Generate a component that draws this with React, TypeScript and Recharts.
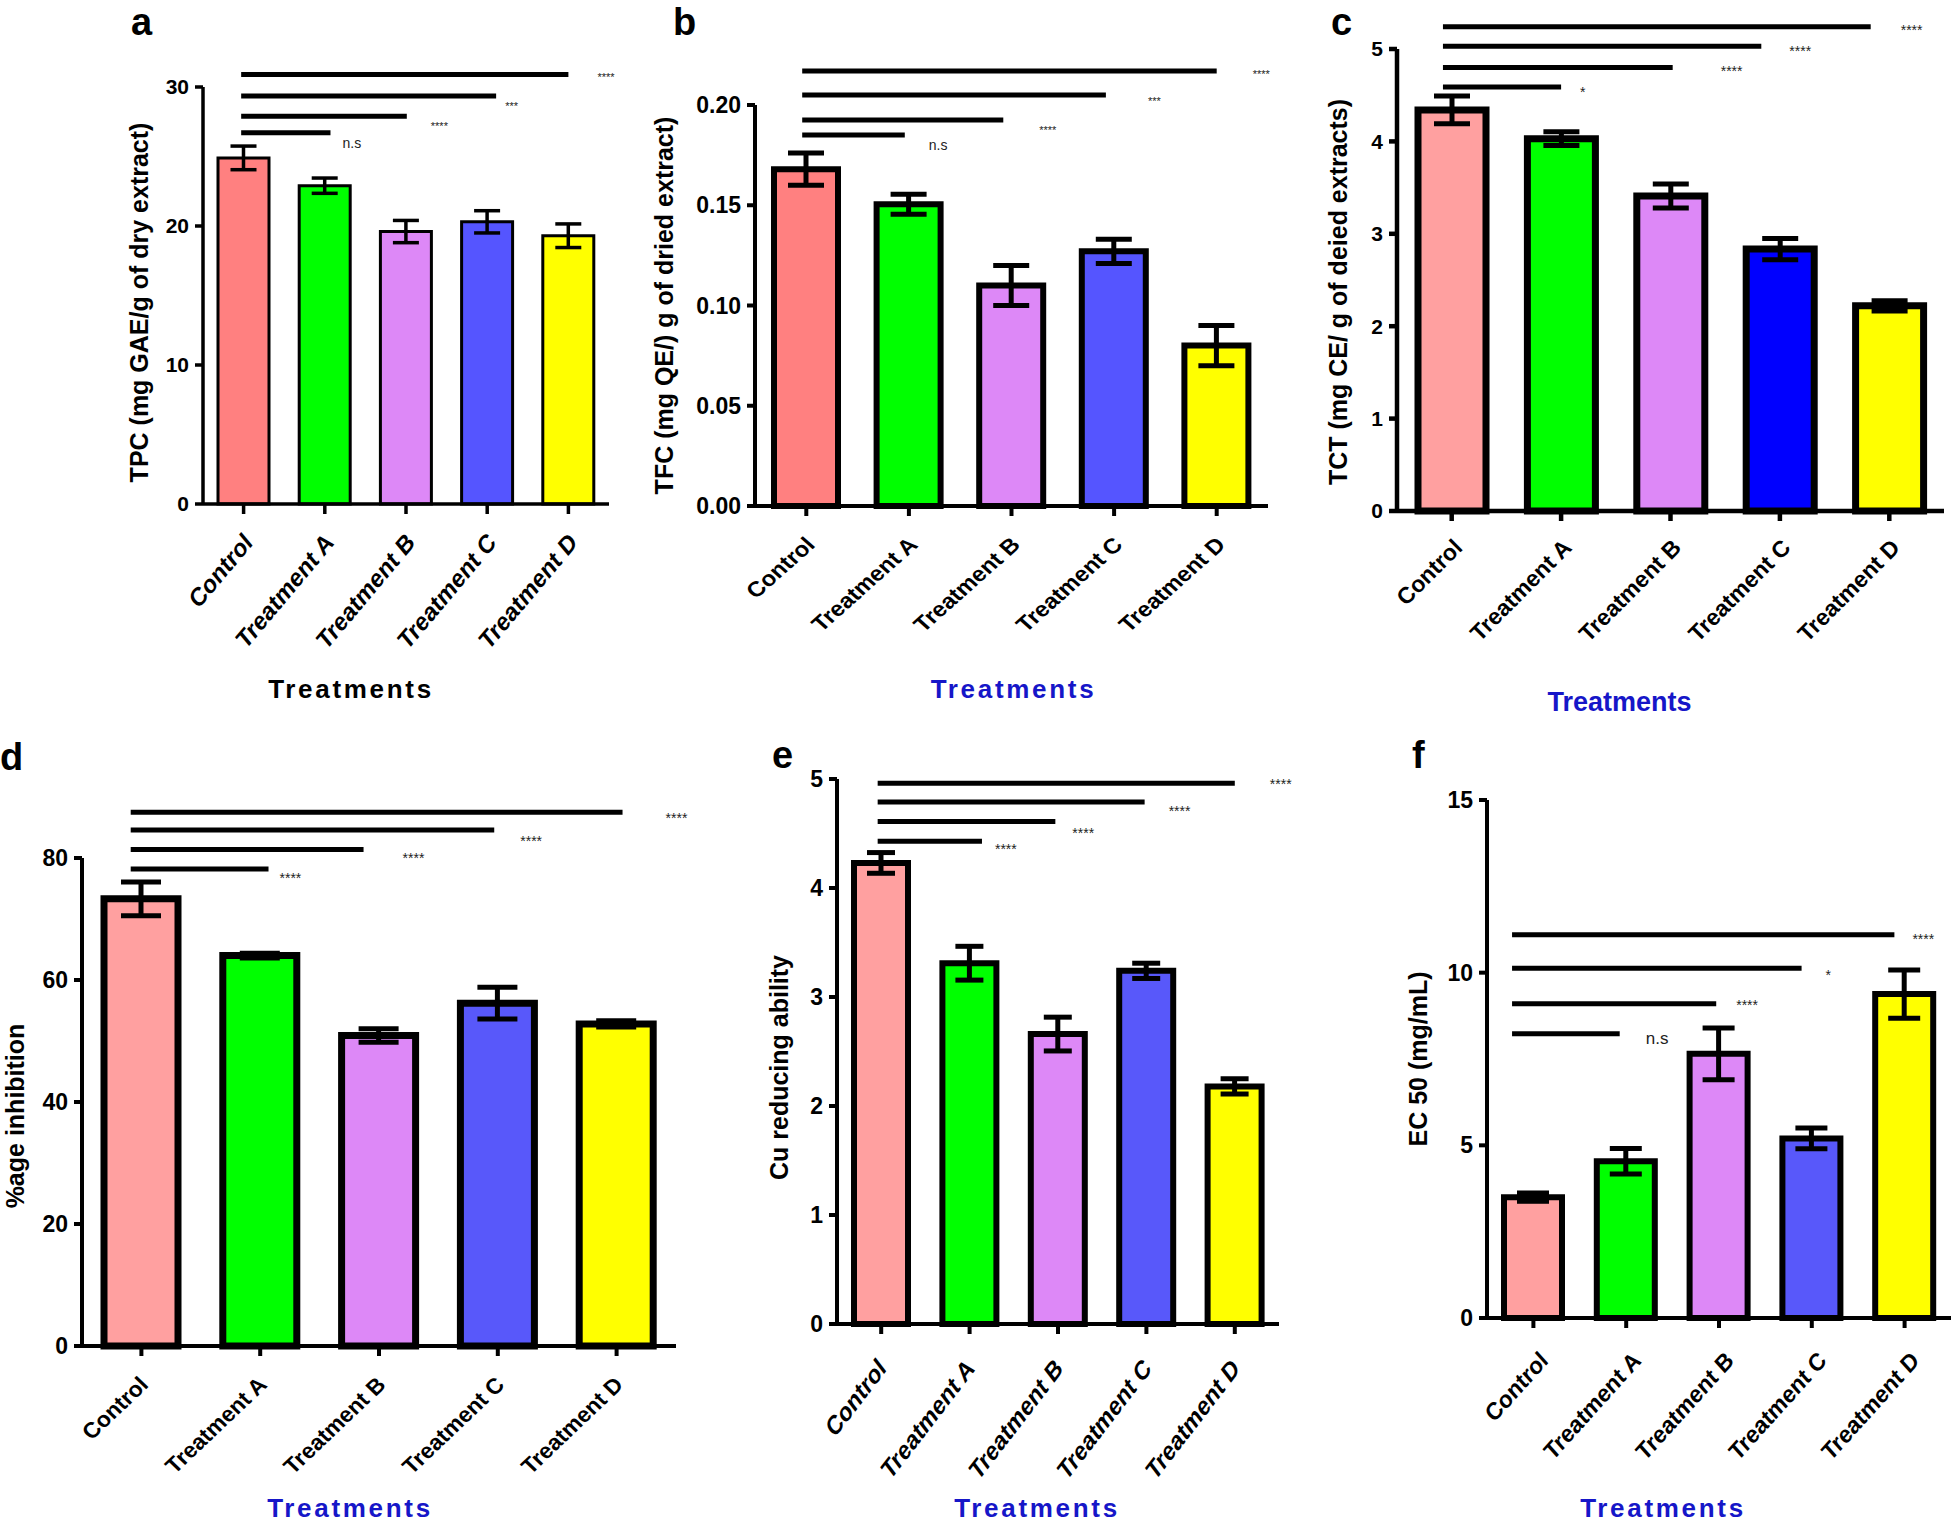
import { Bar, BarChart, Cell, ErrorBar, ReferenceLine, XAxis, YAxis } from "recharts";

const FONT = '"Liberation Sans", Arial, Helvetica, sans-serif';
const BLUE = "#1616c8";

const categories = ["Control", "Treatment A", "Treatment B", "Treatment C", "Treatment D"];
// comparison bars run from Control towards these groups (top to bottom)
const sigTargetIdx = [4, 3, 2, 1];

// a - TPC
const tpcMean = [24.9, 22.9, 19.6, 20.3, 19.3];
const tpcErr = [0.85, 0.55, 0.8, 0.8, 0.85];
const tpcTicks = [0, 10, 20, 30];
const tpcSigLevels = [30.9, 29.35, 27.9, 26.7];
const tpcSigStart = 0.47;
const tpcSigEnds = [4.5, 3.61, 2.51, 1.57];
const tpcSigText = ["****", "***", "****", "n.s"];

// b - TFC
const tfcMean = [0.168, 0.1505, 0.11, 0.127, 0.08];
const tfcErr = [0.008, 0.005, 0.01, 0.006, 0.01];
const tfcTicks = [0, 0.05, 0.1, 0.15, 0.2];
const tfcSigLevels = [0.217, 0.205, 0.1925, 0.185];
const tfcSigStart = 0.46;
const tfcSigEnds = [4.5, 3.42, 2.42, 1.46];
const tfcSigText = ["****", "***", "****", "n.s"];

// c - TCT
const tctMean = [4.34, 4.03, 3.41, 2.835, 2.22];
const tctErr = [0.15, 0.075, 0.13, 0.115, 0.055];
const tctTicks = [0, 1, 2, 3, 4, 5];
const tctSigLevels = [5.24, 5.03, 4.8, 4.59];
const tctSigStart = 0.42;
const tctSigEnds = [4.33, 3.33, 2.52, 1.5];
const tctSigText = ["****", "****", "****", "*"];

// d - % inhibition
const inhibMean = [73.3, 64.0, 50.9, 56.2, 52.8];
const inhibErr = [2.75, 0.4, 1.1, 2.6, 0.5];
const inhibTicks = [0, 20, 40, 60, 80];
const inhibSigLevels = [87.5, 84.6, 81.4, 78.2];
const inhibSigStart = 0.41;
const inhibSigEnds = [4.55, 3.47, 2.37, 1.57];
const inhibSigText = ["****", "****", "****", "****"];

// e - Cu reducing ability
const cuMean = [4.23, 3.31, 2.66, 3.24, 2.18];
const cuErr = [0.095, 0.155, 0.155, 0.07, 0.07];
const cuTicks = [0, 1, 2, 3, 4, 5];
const cuSigLevels = [4.96, 4.79, 4.61, 4.43];
const cuSigStart = 0.46;
const cuSigEnds = [4.5, 3.48, 2.47, 1.64];
const cuSigText = ["****", "****", "****", "****"];

// f - EC50
const ecMean = [3.5, 4.54, 7.65, 5.2, 9.38];
const ecErr = [0.12, 0.37, 0.75, 0.3, 0.7];
const ecTicks = [0, 5, 10, 15];
const ecSigLevels = [11.1, 10.13, 9.1, 8.23];
const ecSigStart = 0.27;
const ecSigEnds = [4.39, 3.39, 2.47, 1.43];
const ecSigText = ["****", "*", "****", "n.s"];

const palSalmon = ["#ff8080", "#00ff00", "#dd88f7", "#5555ff", "#ffff00"];
const palPinkBlue = ["#ffa0a0", "#00ff00", "#dd88f7", "#0000ff", "#ffff00"];
const palPink = ["#ffa0a0", "#00ff00", "#dd88f7", "#5858fa", "#ffff00"];

type PanelProps = {
  letter: string;
  mean: number[];
  err: number[];
  ticks: number[];
  sigLevels: number[];
  sigStart: number;
  sigEnds: number[];
  sigText: string[];
  colors: string[];
  yTitle: string;
  decimals: number;
  left: number;
  top: number;
  width: number;
  height: number;
  yAxisWidth: number;
  marginTop: number;
  marginRight: number;
  xAxisHeight: number;
  barSize: number;
  barStroke: number;
  capHalf: number;
  errW: number;
  axisW: number;
  yTickFont: number;
  xTickFont: number;
  xTickK: number;
  xTickDx: number;
  xTickDy: number;
  yTitleFont: number;
  yTitleDist: number;
  yTitleDy: number;
  xTitleColor: string;
  xTitleFont: number;
  xTitleSpacing: number;
  xTitleDx: number;
  xTitleDy: number;
  sigGap: number[];
  sigDy: number[];
  sigFont: number;
  letterX: number;
  letterY: number;
};

function RotTick(props: any) {
  const { x, y, payload, fontSize, k, dx, dy } = props;
  // y arrives as axis y + tickSize + tickMargin (14)
  return (
    <g transform={`translate(${x + dx},${y - 14 + dy}) scale(1,${k}) rotate(-45)`}>
      <text textAnchor="end" fontSize={fontSize} fontWeight="bold" fill="#000">
        {payload.value}
      </text>
    </g>
  );
}

function Panel(p: PanelProps) {
  const data = categories.map((name, i) => ({ name, mean: p.mean[i], err: p.err[i] }));
  const yMax = p.ticks[p.ticks.length - 1];

  const yTitle = (props: any) => {
    const vb = props.viewBox;
    if (!vb) return null;
    const cx = vb.x + vb.width - p.yTitleDist;
    const cy = vb.y + vb.height / 2 + p.yTitleDy;
    return (
      <text
        x={cx}
        y={cy}
        transform={`rotate(-90, ${cx}, ${cy})`}
        textAnchor="middle"
        dominantBaseline="central"
        fontSize={p.yTitleFont}
        fontWeight="bold"
        fill="#000"
      >
        {p.yTitle}
      </text>
    );
  };

  const xTitle = (props: any) => {
    const vb = props.viewBox;
    if (!vb) return null;
    return (
      <text
        x={vb.x + vb.width / 2 + p.xTitleDx}
        y={vb.y + p.xTitleDy}
        textAnchor="middle"
        fontSize={p.xTitleFont}
        fontWeight="bold"
        letterSpacing={p.xTitleSpacing}
        fill={p.xTitleColor}
      >
        Treatments
      </text>
    );
  };

  // the segment is laid between category centres; the shape trims it to the
  // exact start / end (in category units, centre = i + 0.5)
  const sigShape = (i: number) => (props: any) => {
    const { x1, x2, y1 } = props;
    if (x1 == null || x2 == null || y1 == null) return <g />;
    const band = (x2 - x1) / sigTargetIdx[i];
    const xs = x1 + (p.sigStart - 0.5) * band;
    const xe = x1 + (p.sigEnds[i] - 0.5) * band;
    const txt = p.sigText[i];
    return (
      <g>
        <line x1={xs} y1={y1} x2={xe} y2={y1} stroke="#000" strokeWidth={5} />
        <text
          x={xe + p.sigGap[i]}
          y={y1 + p.sigDy[i]}
          dominantBaseline="central"
          fontSize={txt === "n.s" ? p.sigFont + 3 : p.sigFont}
          fill="#222"
        >
          {txt}
        </text>
      </g>
    );
  };

  return (
    <div style={{ position: "absolute", left: p.left, top: p.top }}>
      <BarChart
        width={p.width}
        height={p.height}
        data={data}
        margin={{ top: p.marginTop, right: p.marginRight, bottom: 0, left: 0 }}
        barSize={p.barSize}
      >
        <XAxis
          dataKey="name"
          height={p.xAxisHeight}
          interval={0}
          axisLine={{ stroke: "#000", strokeWidth: p.axisW }}
          tickLine={{ stroke: "#000", strokeWidth: p.axisW }}
          tickSize={10}
          tickMargin={4}
          tick={(t: any) => (
            <RotTick {...t} fontSize={p.xTickFont} k={p.xTickK} dx={p.xTickDx} dy={p.xTickDy} />
          )}
          label={xTitle}
        />
        <YAxis
          domain={[0, yMax]}
          ticks={p.ticks}
          width={p.yAxisWidth}
          axisLine={{ stroke: "#000", strokeWidth: p.axisW }}
          tickLine={{ stroke: "#000", strokeWidth: p.axisW }}
          tickSize={8}
          tickMargin={6}
          tick={{ fill: "#000", fontSize: p.yTickFont, fontWeight: "bold" }}
          tickFormatter={(v: number) => v.toFixed(p.decimals)}
          label={yTitle}
        />
        <Bar dataKey="mean" stroke="#000" strokeWidth={p.barStroke} isAnimationActive={false}>
          {data.map((d, i) => (
            <Cell key={d.name} fill={p.colors[i]} />
          ))}
          <ErrorBar
            dataKey="err"
            direction="y"
            width={p.capHalf}
            stroke="#000"
            strokeWidth={p.errW}
            isAnimationActive={false}
          />
        </Bar>
        {sigTargetIdx.map((t, i) => (
          <ReferenceLine
            key={i}
            segment={[
              { x: categories[0], y: p.sigLevels[i] },
              { x: categories[t], y: p.sigLevels[i] },
            ]}
            stroke="#000"
            strokeWidth={5}
            ifOverflow="visible"
            shape={sigShape(i)}
          />
        ))}
      </BarChart>
      <div
        style={{
          position: "absolute",
          left: p.letterX,
          top: p.letterY,
          fontSize: 38,
          lineHeight: 1,
          fontWeight: "bold",
          color: "#000",
        }}
      >
        {p.letter}
      </div>
    </div>
  );
}

export default function App() {
  return (
    <div
      style={{
        position: "absolute",
        left: 0,
        top: 0,
        width: 1953,
        height: 1524,
        overflow: "hidden",
        background: "#fff",
        fontFamily: FONT,
      }}
    >
      <Panel
        letter="a"
        mean={tpcMean}
        err={tpcErr}
        ticks={tpcTicks}
        sigLevels={tpcSigLevels}
        sigStart={tpcSigStart}
        sigEnds={tpcSigEnds}
        sigText={tpcSigText}
        colors={palSalmon}
        yTitle="TPC (mg GAE/g of dry extract)"
        decimals={0}
        left={0}
        top={0}
        width={640}
        height={720}
        yAxisWidth={203}
        marginTop={87}
        marginRight={31}
        xAxisHeight={216}
        barSize={51}
        barStroke={3}
        capHalf={13}
        errW={3.5}
        axisW={3.5}
        yTickFont={21}
        xTickFont={22}
        xTickK={1.19}
        xTickDx={10}
        xTickDy={40}
        yTitleFont={25}
        yTitleDist={64}
        yTitleDy={7}
        xTitleColor="#000"
        xTitleFont={26}
        xTitleSpacing={2.7}
        xTitleDx={-55}
        xTitleDy={194}
        sigGap={[29, 9, 24, 12]}
        sigDy={[3, 10, 10, 10]}
        sigFont={11}
        letterX={131}
        letterY={3}
      />
      <Panel
        letter="b"
        mean={tfcMean}
        err={tfcErr}
        ticks={tfcTicks}
        sigLevels={tfcSigLevels}
        sigStart={tfcSigStart}
        sigEnds={tfcSigEnds}
        sigText={tfcSigText}
        colors={palSalmon}
        yTitle="TFC (mg QE/) g of dried extract)"
        decimals={2}
        left={640}
        top={0}
        width={650}
        height={720}
        yAxisWidth={115}
        marginTop={105}
        marginRight={22}
        xAxisHeight={214}
        barSize={64}
        barStroke={6}
        capHalf={18}
        errW={5}
        axisW={4}
        yTickFont={23}
        xTickFont={24}
        xTickK={0.89}
        xTickDx={10}
        xTickDy={40}
        yTitleFont={25}
        yTitleDist={91}
        yTitleDy={0}
        xTitleColor={BLUE}
        xTitleFont={26}
        xTitleSpacing={2.7}
        xTitleDx={2}
        xTitleDy={192}
        sigGap={[36, 42, 36, 24]}
        sigDy={[3, 6, 10, 10]}
        sigFont={11}
        letterX={33}
        letterY={3}
      />
      <Panel
        letter="c"
        mean={tctMean}
        err={tctErr}
        ticks={tctTicks}
        sigLevels={tctSigLevels}
        sigStart={tctSigStart}
        sigEnds={tctSigEnds}
        sigText={tctSigText}
        colors={palPinkBlue}
        yTitle="TCT (mg CE/ g of deied extracts)"
        decimals={0}
        left={1290}
        top={0}
        width={663}
        height={730}
        yAxisWidth={107}
        marginTop={49}
        marginRight={9}
        xAxisHeight={219}
        barSize={68}
        barStroke={7}
        capHalf={18}
        errW={5}
        axisW={4.5}
        yTickFont={21}
        xTickFont={23}
        xTickK={1}
        xTickDx={12}
        xTickDy={38}
        yTitleFont={25}
        yTitleDist={59}
        yTitleDy={12}
        xTitleColor={BLUE}
        xTitleFont={27}
        xTitleSpacing={0}
        xTitleDx={-51}
        xTitleDy={200}
        sigGap={[30, 28, 48, 19]}
        sigDy={[3, 4.5, 3.5, 5]}
        sigFont={14}
        letterX={41}
        letterY={3}
      />
      <Panel
        letter="d"
        mean={inhibMean}
        err={inhibErr}
        ticks={inhibTicks}
        sigLevels={inhibSigLevels}
        sigStart={inhibSigStart}
        sigEnds={inhibSigEnds}
        sigText={inhibSigText}
        colors={palPink}
        yTitle="%age inhibition"
        decimals={0}
        left={0}
        top={730}
        width={700}
        height={794}
        yAxisWidth={82}
        marginTop={128}
        marginRight={24}
        xAxisHeight={178}
        barSize={74}
        barStroke={7}
        capHalf={20}
        errW={5}
        axisW={4}
        yTickFont={23}
        xTickFont={23}
        xTickK={0.95}
        xTickDx={8}
        xTickDy={40}
        yTitleFont={25}
        yTitleDist={67}
        yTitleDy={14}
        xTitleColor={BLUE}
        xTitleFont={26}
        xTitleSpacing={2.7}
        xTitleDx={-29}
        xTitleDy={171}
        sigGap={[43, 26, 39, 11]}
        sigDy={[6, 11, 8.5, 9]}
        sigFont={14}
        letterX={0}
        letterY={8}
      />
      <Panel
        letter="e"
        mean={cuMean}
        err={cuErr}
        ticks={cuTicks}
        sigLevels={cuSigLevels}
        sigStart={cuSigStart}
        sigEnds={cuSigEnds}
        sigText={cuSigText}
        colors={palPink}
        yTitle="Cu reducing ability"
        decimals={0}
        left={700}
        top={730}
        width={600}
        height={794}
        yAxisWidth={137}
        marginTop={49}
        marginRight={21}
        xAxisHeight={200}
        barSize={54}
        barStroke={6}
        capHalf={14}
        errW={5}
        axisW={4}
        yTickFont={23}
        xTickFont={21}
        xTickK={1.3}
        xTickDx={6}
        xTickDy={46}
        yTitleFont={25}
        yTitleDist={58}
        yTitleDy={16}
        xTitleColor={BLUE}
        xTitleFont={26}
        xTitleSpacing={2.7}
        xTitleDx={-21}
        xTitleDy={193}
        sigGap={[35, 24, 17, 13]}
        sigDy={[1, 9, 11, 8]}
        sigFont={14}
        letterX={72}
        letterY={6}
      />
      <Panel
        letter="f"
        mean={ecMean}
        err={ecErr}
        ticks={ecTicks}
        sigLevels={ecSigLevels}
        sigStart={ecSigStart}
        sigEnds={ecSigEnds}
        sigText={ecSigText}
        colors={palPink}
        yTitle="EC 50 (mg/mL)"
        decimals={0}
        left={1300}
        top={730}
        width={653}
        height={794}
        yAxisWidth={187}
        marginTop={70}
        marginRight={2}
        xAxisHeight={206}
        barSize={58}
        barStroke={6}
        capHalf={16}
        errW={5}
        axisW={4}
        yTickFont={23}
        xTickFont={22}
        xTickK={1.11}
        xTickDx={16}
        xTickDy={44}
        yTitleFont={25}
        yTitleDist={69}
        yTitleDy={0}
        xTitleColor={BLUE}
        xTitleFont={26}
        xTitleSpacing={2.7}
        xTitleDx={-56}
        xTitleDy={199}
        sigGap={[18, 24, 20, 26]}
        sigDy={[4, 7, 1, 5]}
        sigFont={14}
        letterX={112}
        letterY={6}
      />
    </div>
  );
}
